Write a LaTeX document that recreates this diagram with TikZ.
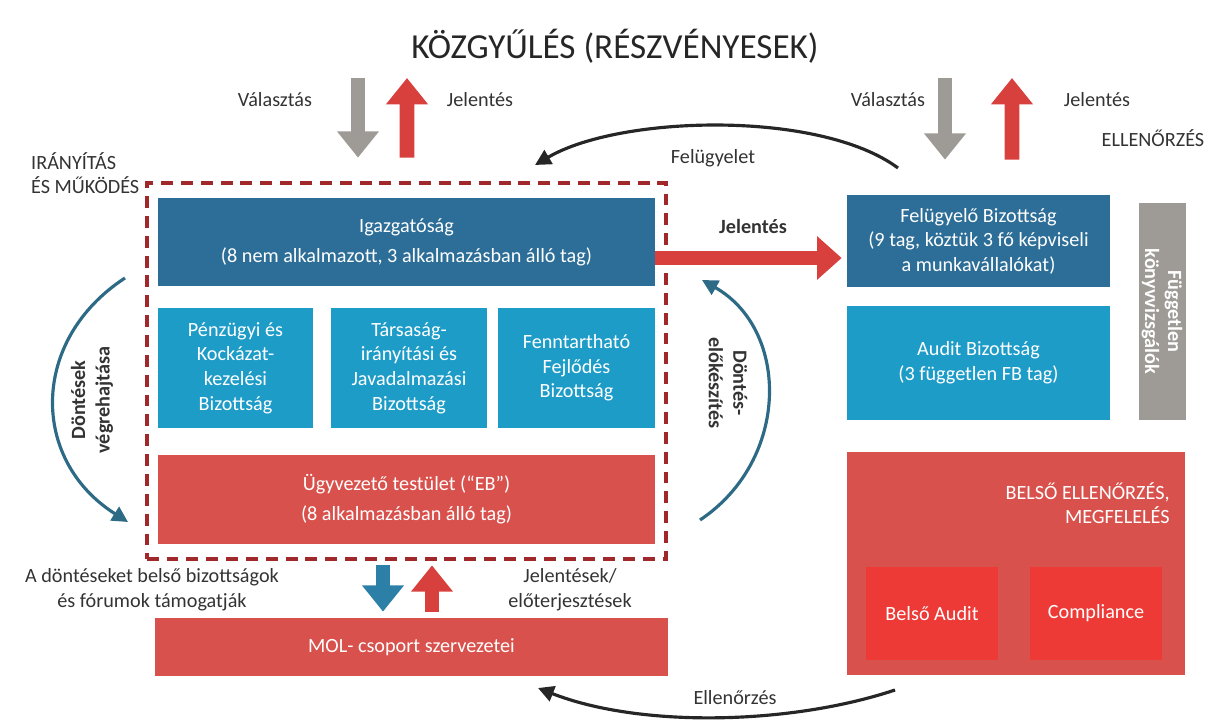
\documentclass[tikz,border=0pt]{standalone}
\usepackage{fontspec}
\setmainfont{Carlito}
\usetikzlibrary{arrows.meta,positioning,fit}

\definecolor{igkek}{HTML}{2D6E98}
\definecolor{bizkek}{HTML}{1E9CC8}
\definecolor{mpiros}{HTML}{D9514C}
\definecolor{vpiros}{HTML}{EE3A36}
\definecolor{spiros}{HTML}{A0282A}
\definecolor{nyszurke}{HTML}{9E9A96}
\definecolor{nypiros}{HTML}{D8403D}
\definecolor{ivkek}{HTML}{2D6A85}
\definecolor{nykek}{HTML}{2C7FA6}
\newcommand{\pw}{0.02cm}

\tikzset{
  doboz/.style={text=white, align=center, inner sep=0pt, font=\fontsize{11.5}{14}\selectfont},
  cimke/.style={text=black!80, align=center, font=\fontsize{11.5}{14}\selectfont},
  keret/.style={draw=spiros, line width=2.3pt, dash pattern=on 6.8pt off 4.5pt},
  vastagnyil/.style={line width=8.5pt, -{Triangle[length=15pt,width=23pt]}},
  ivnyil/.style={line width=1.8pt, -{Triangle[length=9pt,width=9pt]}}
}

\begin{document}
\begin{tikzpicture}[x=0.02cm, y=-0.02cm]
\useasboundingbox (0,0) rectangle (1214,726);

\node[font=\fontsize{20}{24}\selectfont, text=black!85] (kozgy) at (615,46) {KÖZGYŰLÉS (RÉSZVÉNYESEK)};

% iranyitas es mukodes
\node[doboz, fill=igkek, minimum width=497*\pw, minimum height=88*\pw, font=\fontsize{11.5}{17}\selectfont] (igaz) at (406.5,242)
  {Igazgatóság\\(8 nem alkalmazott, 3 alkalmazásban álló tag)};
\node[doboz, fill=bizkek, minimum width=155*\pw, minimum height=120*\pw] (penz) at (235.5,368)
  {Pénzügyi és\\Kockázat-\\kezelési\\Bizottság};
\node[doboz, fill=bizkek, minimum width=156*\pw, minimum height=120*\pw] (tars) at (409,368)
  {Társaság-\\irányítási és\\Javadalmazási\\Bizottság};
\node[doboz, fill=bizkek, minimum width=157*\pw, minimum height=120*\pw] (fenn) at (576.5,368)
  {Fenntartható\\Fejlődés\\Bizottság};
\node[doboz, fill=mpiros, minimum width=497*\pw, minimum height=89*\pw, font=\fontsize{11.5}{17}\selectfont] (ugyv) at (406.5,499.5)
  {Ügyvezető testület (“EB”)\\(8 alkalmazásban álló tag)};
\node[keret, fit=(igaz)(penz)(fenn)(ugyv), inner xsep=11*\pw, inner ysep=15*\pw] (mukodes) {};
\node[doboz, fill=mpiros, minimum width=513*\pw, minimum height=58*\pw] (mol) at (411.5,647)
  {MOL- csoport szervezetei};

% ellenorzes
\node[doboz, fill=igkek, minimum width=263*\pw, minimum height=92*\pw] (felu) at (978.5,241)
  {Felügyelő Bizottság\\(9 tag, köztük 3 fő képviseli\\a munkavállalókat)};
\node[doboz, fill=bizkek, minimum width=263*\pw, minimum height=114*\pw] (audit) at (978.5,363)
  {Audit Bizottság\\(3 független FB tag)};
\node[doboz, fill=nyszurke, minimum width=47*\pw, minimum height=217*\pw] (fugg) at (1162,311.5) {};
\node[doboz, rotate=-90, font=\bfseries\fontsize{11.5}{13}\selectfont] (fuggszoveg) at (fugg.center)
  {Független\\könyvvizsgálók};
\node[doboz, fill=mpiros, minimum width=338*\pw, minimum height=223*\pw] (belso) at (1016,563.5) {};
\node[doboz, align=right, anchor=north east] (belsocim) at (1170,482)
  {BELSŐ ELLENŐRZÉS,\\MEGFELELÉS};
\node[doboz, fill=vpiros, minimum width=132*\pw, minimum height=93*\pw] (baudit) at (932,613.5) {Belső Audit};
\node[doboz, fill=vpiros, minimum width=132*\pw, minimum height=93*\pw] (compl) at (1096,613.5) {Compliance};

% cimkek
\node[cimke] (valbal) at (275,100) {Választás};
\node[cimke] (jelbal) at (480,100) {Jelentés};
\node[cimke] (valjobb) at (888,100) {Választás};
\node[cimke] (jeljobb) at (1097,100) {Jelentés};
\node[cimke] (ellcim) at (1153,138) {ELLENŐRZÉS};
\node[cimke, align=left, anchor=north west] (irany) at (25,146) {IRÁNYÍTÁS\\ÉS MŰKÖDÉS};
\node[cimke] (felugy) at (713,158) {Felügyelet};
\node[cimke, font=\bfseries\fontsize{11.5}{14}\selectfont] (jelkozep) at (753,226) {Jelentés};
\node[cimke, rotate=90, font=\bfseries\fontsize{11.5}{14}\selectfont] (vegreh) at (92,400) {Döntések\\végrehajtása};
\node[cimke, rotate=-90, font=\bfseries\fontsize{11.5}{14}\selectfont] (elokesz) at (728,383) {Döntés-\\előkészítés};
\node[cimke] (tamog) at (152,590) {A döntéseket belső bizottságok\\és fórumok támogatják};
\node[cimke] (eloterj) at (570,590) {Jelentések/\\előterjesztések};
\node[cimke] (ellen) at (735,698) {Ellenőrzés};

\coordinate (fentbal1) at (358,78);
\coordinate (fentbal2) at (407,78);
\coordinate (fentjobb1) at (945,78);
\coordinate (fentjobb2) at (1012,78);

% nyilak
\draw[vastagnyil, nyszurke] (fentbal1) -- ([xshift=-48.5*\pw, yshift=23*\pw]mukodes.north);
\draw[vastagnyil, nypiros] ([xshift=0.5*\pw, yshift=23*\pw]mukodes.north) -- (fentbal2);
\draw[vastagnyil, nyszurke] (fentjobb1) -- ([xshift=-33.5*\pw, yshift=35*\pw]felu.north);
\draw[vastagnyil, nypiros] ([xshift=33.5*\pw, yshift=35*\pw]felu.north) -- (fentjobb2);
\draw[vastagnyil, nypiros, -{Triangle[length=14pt,width=24pt]}] ([yshift=-16*\pw]igaz.east) -- ([yshift=-17*\pw, xshift=-5*\pw]felu.west);
\draw[vastagnyil, nykek] ([xshift=-23.5*\pw, yshift=-4*\pw]mukodes.south) -- ([xshift=-28.5*\pw, yshift=6*\pw]mol.north);
\draw[vastagnyil, nypiros] ([xshift=20.5*\pw, yshift=6*\pw]mol.north) -- ([xshift=25.5*\pw, yshift=-4*\pw]mukodes.south);

\coordinate (felkezd) at (898,168);
\coordinate (felveg) at (535,165);
\draw[ivnyil, black!85] (felkezd) .. controls (820,110) and (620,115) .. (felveg);
\coordinate (ellkezd) at (895,690);
\coordinate (ellveg) at (538,688);
\draw[ivnyil, black!85] (ellkezd) .. controls (790,725) and (640,728) .. (ellveg);
\coordinate (vegkezd) at (125,278);
\coordinate (vegveg) at (128,522);
\draw[ivnyil, ivkek] (vegkezd) .. controls (30,340) and (30,460) .. (vegveg);
\coordinate (elokezd) at (700,520);
\coordinate (eloveg) at (702,280);
\draw[ivnyil, ivkek] (elokezd) .. controls (790,460) and (790,330) .. (eloveg);
\end{tikzpicture}
\end{document}
